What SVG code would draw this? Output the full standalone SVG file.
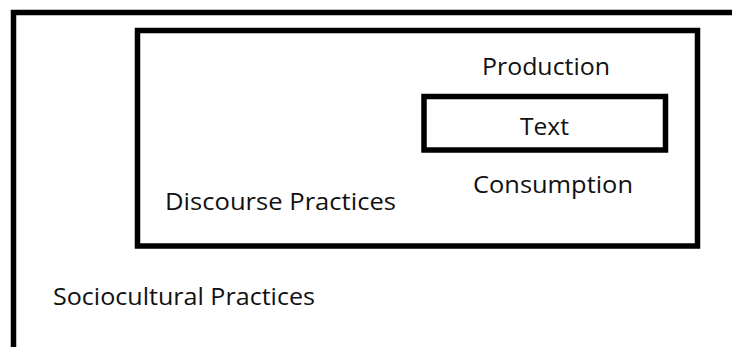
<svg xmlns="http://www.w3.org/2000/svg" width="732" height="347" viewBox="0 0 732 347">
<style>
.box{fill:none;stroke:#000;stroke-width:5.5}
.lbl{font-family:"Open Sans","Liberation Sans",sans-serif;font-size:23.5px;fill:#111}
</style>
<rect width="732" height="347" fill="#fff"/>
<g id="sociocultural">
<path class="box" d="M13.5 350 V12.5 H740"/>
<text class="lbl" x="53" y="305" textLength="262" lengthAdjust="spacingAndGlyphs">Sociocultural Practices</text>
</g>
<g id="discourse">
<rect class="box" x="137.5" y="30.5" width="560" height="215.5"/>
<text class="lbl" x="165" y="210" textLength="231" lengthAdjust="spacingAndGlyphs">Discourse Practices</text>
</g>
<g id="production">
<text class="lbl" x="482" y="75" textLength="128" lengthAdjust="spacingAndGlyphs">Production</text>
</g>
<g id="text">
<rect class="box" x="424" y="96.5" width="241.5" height="53.5"/>
<text class="lbl" x="520" y="135" textLength="49" lengthAdjust="spacingAndGlyphs">Text</text>
</g>
<g id="consumption">
<text class="lbl" x="473" y="193" textLength="160" lengthAdjust="spacingAndGlyphs">Consumption</text>
</g>
<g id="connectors"></g>
</svg>
